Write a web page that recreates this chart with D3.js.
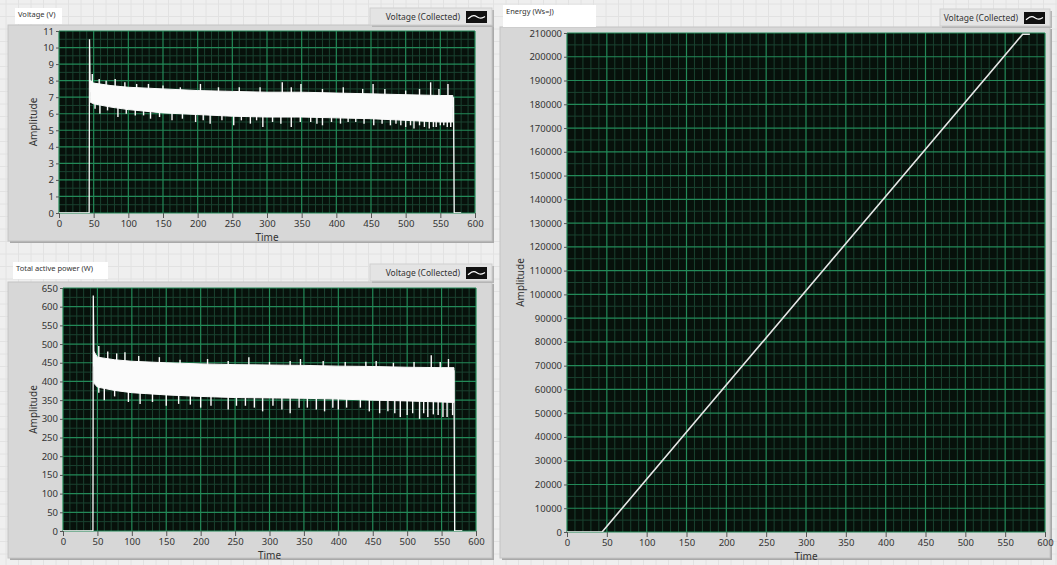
<!DOCTYPE html>
<html>
<head>
<meta charset="utf-8">
<script src="https://cdn.jsdelivr.net/npm/d3@7"></script>
<style>
body { margin: 0; background: #efefef; overflow: hidden; }
svg { display: block; font-family: "Noto Sans", "Open Sans", sans-serif; }
</style>
</head>
<body>
<svg id="panel" width="1057" height="565"></svg>
<script>
// ---- data ----
const timeTicks = [0, 50, 100, 150, 200, 250, 300, 350, 400, 450, 500, 550, 600];
const voltTicks = [0, 1, 2, 3, 4, 5, 6, 7, 8, 9, 10, 11];
const powerTicks = [0, 50, 100, 150, 200, 250, 300, 350, 400, 450, 500, 550, 600, 650];
const energyTicks = [0, 10000, 20000, 30000, 40000, 50000, 60000, 70000, 80000, 90000, 100000,
  110000, 120000, 130000, 140000, 150000, 160000, 170000, 180000, 190000, 200000, 210000];

// voltage: noisy band (upper / lower envelope) plus single spikes
const bandT = [45, 50, 75, 100, 150, 200, 250, 300, 350, 400, 450, 500, 550, 568];
const vBandHi = [8.0, 7.85, 7.7, 7.6, 7.5, 7.4, 7.35, 7.3, 7.3, 7.25, 7.2, 7.15, 7.1, 7.1];
const vBandLo = [6.7, 6.6, 6.4, 6.25, 6.05, 5.95, 5.85, 5.8, 5.8, 5.75, 5.7, 5.6, 5.5, 5.5];
const vDownT = [52, 59, 70, 85, 97, 110, 122, 132, 145, 163, 178, 197, 208, 218, 235, 252, 263, 276, 285, 294, 308, 320, 335, 348, 363, 372, 380, 393, 406, 417, 428, 440, 454, 466, 478, 486, 493, 500, 507, 512, 520, 527, 534, 540, 544, 550, 555, 560, 565];
const vDownV = [6.3, 6.0, 6.2, 5.8, 6.0, 5.9, 5.9, 5.7, 5.8, 5.6, 5.7, 5.5, 5.6, 5.4, 5.6, 5.3, 5.6, 5.4, 5.6, 5.2, 5.5, 5.4, 5.2, 5.5, 5.5, 5.4, 5.3, 5.5, 5.4, 5.5, 5.5, 5.4, 5.3, 5.4, 5.3, 5.4, 5.3, 5.2, 5.3, 5.1, 5.3, 5.2, 5.1, 5.2, 5.2, 5.3, 5.3, 5.2, 5.2];
const vUpT = [48, 58, 68, 81, 95, 112, 129, 150, 175, 204, 230, 260, 290, 322, 335, 349, 380, 410, 438, 453, 470, 500, 520, 536, 548, 561];
const vUpV = [8.4, 8.1, 8.0, 8.1, 7.9, 7.8, 7.8, 7.7, 7.6, 7.8, 7.6, 7.6, 7.6, 7.9, 7.6, 7.8, 7.5, 7.6, 7.5, 7.8, 7.5, 7.4, 7.5, 7.9, 7.5, 7.8];
const vLeadT = [0, 43.5, 44, 45];
const vLeadV = [0, 0, 10.5, 7.3];
const vTailT = [568, 569, 570, 580];
const vTailV = [6.4, 7.0, 0, 0];

// total active power
const pBandHi = [480, 465, 458, 454, 450, 447, 445, 444, 443, 441, 440, 438, 437, 437];
const pBandLo = [395, 385, 376, 370, 364, 360, 357, 356, 355, 353, 350, 348, 345, 344];
const pDownT = [52, 60, 75, 95, 112, 130, 150, 168, 185, 200, 215, 240, 252, 265, 278, 290, 305, 318, 330, 343, 355, 368, 380, 392, 400, 412, 432, 445, 460, 472, 482, 490, 500, 508, 518, 524, 530, 538, 545, 552, 558, 566];
const pDownV = [370, 350, 360, 345, 340, 345, 335, 340, 338, 330, 335, 325, 335, 335, 330, 320, 335, 325, 315, 330, 330, 325, 320, 330, 325, 330, 330, 320, 315, 320, 315, 305, 310, 315, 300, 315, 305, 312, 310, 305, 305, 310];
const pUpT = [52, 65, 78, 90, 110, 140, 170, 210, 240, 270, 300, 330, 345, 378, 410, 440, 455, 480, 510, 535, 548, 560];
const pUpV = [495, 480, 475, 478, 468, 465, 458, 460, 455, 465, 452, 455, 460, 455, 452, 453, 455, 450, 452, 470, 452, 460];
const pLeadT = [0, 43.5, 44, 45];
const pLeadV = [0, 0, 630, 440];
const pTailT = [567, 568, 569, 580];
const pTailV = [390, 430, 0, 0];

// energy
const eT = [0, 44, 572, 581];
const eV = [0, 0, 209500, 209500];

const legendText = "Voltage (Collected)";

// ---- drawing ----
const svg = d3.select("#panel");
const W = 1057, H = 565;

// front panel grid
const bg = svg.append("g");
bg.append("rect").attr("width", W).attr("height", H).attr("fill", "#efefef");
bg.selectAll("line.gv").data(d3.range(6, W, 12.5)).enter().append("line")
  .attr("x1", d => d).attr("x2", d => d).attr("y1", 0).attr("y2", H)
  .attr("stroke", "#e2e2e2").attr("stroke-width", 1);
bg.selectAll("line.gh").data(d3.range(4, H, 12.5)).enter().append("line")
  .attr("y1", d => d).attr("y2", d => d).attr("x1", 0).attr("x2", W)
  .attr("stroke", "#e2e2e2").attr("stroke-width", 1);

let clipId = 0;

function drawGraph(o) {
  const g = svg.append("g");
  const x = d3.scaleLinear().domain([0, 600]).range([o.px0, o.px1]);
  const y = d3.scaleLinear().domain([0, o.yMax]).range([o.py1, o.py0]);

  // frame
  g.append("rect").attr("x", o.fx0 + 2).attr("y", o.fy0 + 2)
    .attr("width", o.fx1 - o.fx0).attr("height", o.fy1 - o.fy0).attr("fill", "#a9a9a9");
  g.append("rect").attr("x", o.fx0).attr("y", o.fy0)
    .attr("width", o.fx1 - o.fx0).attr("height", o.fy1 - o.fy0)
    .attr("fill", "#d7d7d7").attr("stroke", "#c4c4c4");

  // legend box
  const lw = o.legW;
  g.append("rect").attr("x", o.fx1 - lw + 2).attr("y", o.ly + 2).attr("width", lw).attr("height", 17).attr("fill", "#b5b5b5");
  g.append("rect").attr("x", o.fx1 - lw).attr("y", o.ly).attr("width", lw).attr("height", 17)
    .attr("fill", "#e4e4e4").attr("stroke", "#cfcfcf");
  g.append("text").attr("x", o.fx1 - 32).attr("y", o.ly + 12).attr("text-anchor", "end")
    .attr("font-size", 8.5).attr("fill", "#333").text(legendText);
  g.append("rect").attr("x", o.fx1 - 26).attr("y", o.ly + 3).attr("width", 21).attr("height", 12).attr("fill", "#111");
  const ix = d3.scaleLinear().domain([0, 1]).range([o.fx1 - 24, o.fx1 - 7]);
  const iy = d3.scaleLinear().domain([-1, 1]).range([o.ly + 12, o.ly + 6]);
  g.append("path").datum([[0, -0.6], [0.35, 1], [0.7, -0.8], [1, 0.2]])
    .attr("d", d3.line().x(d => ix(d[0])).y(d => iy(d[1])).curve(d3.curveBasis))
    .attr("fill", "none").attr("stroke", "#fff").attr("stroke-width", 1.2);

  // title label
  g.append("rect").attr("x", o.tx).attr("y", o.ty).attr("width", o.tw).attr("height", o.th).attr("fill", "#fff");
  g.append("text").attr("x", o.tx + 3).attr("y", o.ty + 9).attr("font-size", 7.5).attr("fill", "#333").text(o.title);

  // plot area
  g.append("rect").attr("x", o.px0).attr("y", o.py0)
    .attr("width", o.px1 - o.px0).attr("height", o.py1 - o.py0).attr("fill", "#07110b");

  const minorX = d3.range(0, 601, 10).filter(v => v % 50 !== 0);
  const minorY = d3.range(0, o.yMax + 1e-9, o.yMinor).filter(v => !o.ticks.some(t => Math.abs(t - v) < 1e-9));
  g.append("g").selectAll("line").data(minorX).enter().append("line")
    .attr("x1", d => x(d)).attr("x2", d => x(d)).attr("y1", o.py0).attr("y2", o.py1)
    .attr("stroke", "#1a4230").attr("stroke-width", 1);
  g.append("g").selectAll("line").data(minorY).enter().append("line")
    .attr("y1", d => y(d)).attr("y2", d => y(d)).attr("x1", o.px0).attr("x2", o.px1)
    .attr("stroke", "#1a4230").attr("stroke-width", 1);
  g.append("g").selectAll("line").data(timeTicks).enter().append("line")
    .attr("x1", d => x(d)).attr("x2", d => x(d)).attr("y1", o.py0).attr("y2", o.py1)
    .attr("stroke", "#238a58").attr("stroke-width", 1.2);
  g.append("g").selectAll("line").data(o.ticks).enter().append("line")
    .attr("y1", d => y(d)).attr("y2", d => y(d)).attr("x1", o.px0).attr("x2", o.px1)
    .attr("stroke", "#238a58").attr("stroke-width", 1.2);

  // axes
  const ax = g.append("g").attr("transform", `translate(0,${o.py1})`)
    .call(d3.axisBottom(x).tickValues(timeTicks).tickSize(5).tickPadding(2).tickFormat(d3.format("d")));
  const ay = g.append("g").attr("transform", `translate(${o.px0},0)`)
    .call(d3.axisLeft(y).tickValues(o.ticks).tickSize(3).tickPadding(2).tickFormat(d3.format("d")));
  [ax, ay].forEach(a => {
    a.select(".domain").remove();
    a.selectAll("line").attr("stroke", "#555");
    a.selectAll("text").attr("font-size", 9.5).attr("fill", "#333").attr("font-family", "Noto Sans");
  });
  g.append("text").attr("x", (o.px0 + o.px1) / 2).attr("y", o.py1 + 28).attr("text-anchor", "middle")
    .attr("font-size", 10).attr("fill", "#333").text("Time");
  g.append("text").attr("transform", `translate(${o.ampX},${(o.py0 + o.py1) / 2}) rotate(-90)`)
    .attr("text-anchor", "middle").attr("font-size", 10).attr("fill", "#333").text("Amplitude");

  // data
  const cid = "clip" + (clipId++);
  svg.append("clipPath").attr("id", cid).append("rect")
    .attr("x", o.px0).attr("y", o.py0).attr("width", o.px1 - o.px0).attr("height", o.py1 - o.py0);
  const dg = g.append("g").attr("clip-path", `url(#${cid})`);
  o.draw(dg, x, y);
}

function noisyTrace(dg, x, y, hi, lo, downT, downV, upT, upV, leadT, leadV, tailT, tailV) {
  const hiS = d3.scaleLinear().domain(bandT).range(hi).clamp(true);
  const loS = d3.scaleLinear().domain(bandT).range(lo).clamp(true);
  dg.append("path").datum(bandT.map((t, i) => [t, hi[i], lo[i]]))
    .attr("d", d3.area().x(d => x(d[0])).y0(d => y(d[2])).y1(d => y(d[1])))
    .attr("fill", "#fbfbfb").attr("stroke", "#fbfbfb").attr("stroke-width", 1);
  dg.append("g").selectAll("line").data(downT.map((t, i) => [t, downV[i]])).enter().append("line")
    .attr("x1", d => x(d[0])).attr("x2", d => x(d[0]))
    .attr("y1", d => y(loS(d[0]) + 0.2 * (hiS(d[0]) - loS(d[0])))).attr("y2", d => y(d[1]))
    .attr("stroke", "#fbfbfb").attr("stroke-width", 1.4);
  dg.append("g").selectAll("line").data(upT.map((t, i) => [t, upV[i]])).enter().append("line")
    .attr("x1", d => x(d[0])).attr("x2", d => x(d[0]))
    .attr("y1", d => y(hiS(d[0]) - 0.2 * (hiS(d[0]) - loS(d[0])))).attr("y2", d => y(d[1]))
    .attr("stroke", "#fbfbfb").attr("stroke-width", 1.4);
  const line = d3.line().x(d => x(d[0])).y(d => y(d[1]));
  [[leadT, leadV], [tailT, tailV]].forEach(([ts, vs]) => {
    dg.append("path").datum(ts.map((t, i) => [t, vs[i]])).attr("d", line)
      .attr("fill", "none").attr("stroke", "#fbfbfb").attr("stroke-width", 1.3);
  });
}

// Voltage (V)
drawGraph({
  fx0: 8, fx1: 492, fy0: 25, fy1: 241, ly: 8, legW: 122,
  tx: 15, ty: 8, tw: 47, th: 16, title: "Voltage (V)",
  px0: 59, px1: 475, py0: 31, py1: 213, yMax: 11, ticks: voltTicks, yMinor: 0.5, ampX: 37,
  draw: (dg, x, y) => noisyTrace(dg, x, y, vBandHi, vBandLo, vDownT, vDownV, vUpT, vUpV, vLeadT, vLeadV, vTailT, vTailV)
});

// Total active power (W)
drawGraph({
  fx0: 8, fx1: 492, fy0: 282, fy1: 558, ly: 264, legW: 122,
  tx: 13, ty: 262, tw: 95, th: 17, title: "Total active power (W)",
  px0: 63, px1: 476, py0: 288, py1: 531, yMax: 650, ticks: powerTicks, yMinor: 25, ampX: 37,
  draw: (dg, x, y) => noisyTrace(dg, x, y, pBandHi, pBandLo, pDownT, pDownV, pUpT, pUpV, pLeadT, pLeadV, pTailT, pTailV)
});

// Energy (Ws=J)
drawGraph({
  fx0: 500, fx1: 1050, fy0: 27, fy1: 558, ly: 9, legW: 110,
  tx: 503, ty: 5, tw: 93, th: 22, title: "Energy (Ws=J)",
  px0: 567, px1: 1045, py0: 33, py1: 532, yMax: 210000, ticks: energyTicks, yMinor: 5000, ampX: 524,
  draw: (dg, x, y) => {
    dg.append("path").datum(eT.map((t, i) => [t, eV[i]]))
      .attr("d", d3.line().x(d => x(d[0])).y(d => y(d[1])))
      .attr("fill", "none").attr("stroke", "#e6e6e6").attr("stroke-width", 1.6);
  }
});
</script>
</body>
</html>
